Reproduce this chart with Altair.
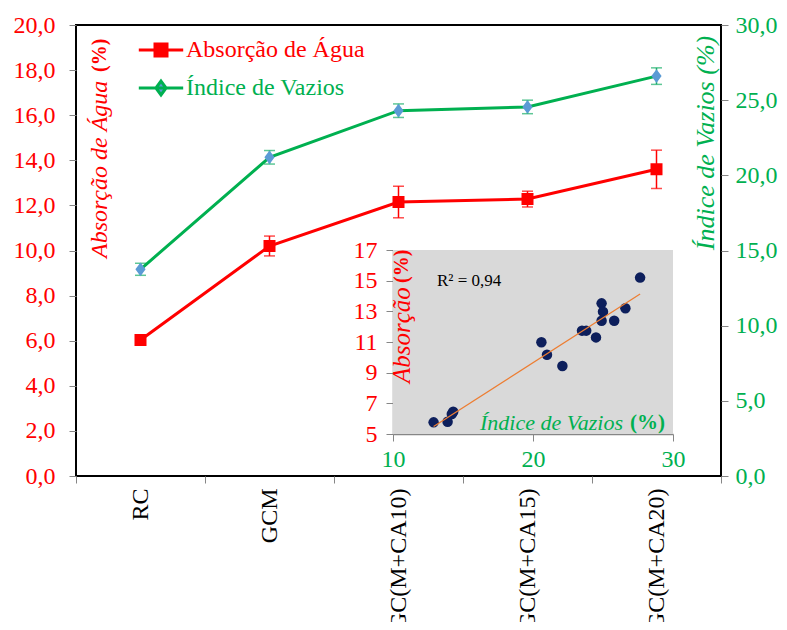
import altair as alt
import pandas as pd

# ---------------- data ----------------
categories = ["RC", "GCM", "GC(M+CA10)", "GC(M+CA15)", "GC(M+CA20)"]
absorcao = [6.03, 10.2, 12.15, 12.28, 13.6]
absorcao_err = [0.05, 0.44, 0.7, 0.35, 0.85]
vazios = [13.75, 21.2, 24.3, 24.55, 26.6]
vazios_err = [0.4, 0.45, 0.45, 0.45, 0.55]

inset_vazios = [12.9, 13.9, 14.2, 14.3, 20.6, 21.0, 22.1, 23.5, 23.8, 24.5,
                24.9, 25.0, 24.9, 25.8, 26.6, 27.65]
inset_absorcao = [5.76, 5.8, 6.3, 6.45, 10.98, 10.17, 9.43, 11.74, 11.74, 11.3,
                  13.52, 12.98, 12.39, 12.39, 13.2, 15.2]

S1 = "Absorção de Água"
S2 = "Índice de Vazios"
FONT = "Liberation Serif"
RED = "#FF0000"
GREEN = "#00B050"
BLUE = "#5B9BD5"
GRAY = "#868686"

rows = []
for c, v, e in zip(categories, absorcao, absorcao_err):
    rows.append(dict(cat=c, series=S1, value=v, lo=v - e, hi=v + e))
for c, v, e in zip(categories, vazios, vazios_err):
    rows.append(dict(cat=c, series=S2, value=v, lo=v - e, hi=v + e))
main_df = pd.DataFrame(rows)

inset_df = pd.DataFrame({"vazios": inset_vazios, "absorcao": inset_absorcao})
inset_bounds = pd.DataFrame({"x0": [10], "x1": [30], "y0": [5], "y1": [17]})

W, H = 645, 451

# ---------------- scales / legend ----------------
square_path = "M-3.7,0H3.7M-1,-1H1V1H-1Z"
diamond_path = "M-3.7,0H3.7M0,-1.15L0.85,0L0,1.15L-0.85,0Z"
stroke_scale = alt.Scale(domain=[S1, S2], range=[RED, GREEN])
fill_scale = alt.Scale(domain=[S1, S2], range=[RED, BLUE])
shape_scale = alt.Scale(domain=[S1, S2], range=[square_path, diamond_path])

leg = alt.Legend(
    title=None, orient="none", legendX=73, legendY=13, padding=0,
    labelFont=FONT, labelFontSize=24, symbolSize=144, symbolStrokeWidth=3,
    labelOffset=13, rowPadding=13, labelLimit=400,
    labelColor=alt.ExprRef("datum.value == 'Absorção de Água' ? '#FF0000' : '#00B050'"),
)

x_axis = alt.Axis(
    orient="bottom", labelAngle=270, labelFont=FONT, labelFontSize=24, labelColor="black",
    labelPadding=5, tickBand="extent", tickColor=GRAY, tickSize=7, domain=False,
    title=None, labelLimit=400,
)
x_main = alt.X("cat:N", sort=categories,
               scale=alt.Scale(type="band", domain=categories, paddingInner=0, paddingOuter=0),
               axis=x_axis)

fmt = "replace(format(datum.value, '.1f'), '.', ',')"
axis_left = alt.Axis(orient="left", values=list(range(0, 21, 2)), labelExpr=fmt,
                     labelFont=FONT, labelFontSize=24, labelColor=RED, tickColor=GRAY,
                     tickSize=7, domain=False, title=None, grid=False, labelPadding=14)
axis_right = alt.Axis(orient="right", values=list(range(0, 31, 5)), labelExpr=fmt,
                      labelFont=FONT, labelFontSize=24, labelColor=GREEN, tickColor=GRAY,
                      tickSize=7, domain=False, title=None, grid=False, labelPadding=7)


def series_layer(name, ydom, axis, cap_color):
    base = alt.Chart(main_df).transform_filter(alt.datum.series == name)
    ysc = alt.Scale(domain=ydom, nice=False, zero=False)
    y_v = alt.Y("value:Q", scale=ysc, axis=axis)
    err = base.mark_rule(color=cap_color, strokeWidth=1.5).encode(
        x=x_main, y=alt.Y("lo:Q", scale=ysc, axis=axis), y2="hi:Q")
    cap_lo = base.mark_tick(color=cap_color, size=11, thickness=1.5).encode(
        x=x_main, y=alt.Y("lo:Q", scale=ysc, axis=axis))
    cap_hi = base.mark_tick(color=cap_color, size=11, thickness=1.5).encode(
        x=x_main, y=alt.Y("hi:Q", scale=ysc, axis=axis))
    line = base.mark_line(strokeWidth=3).encode(
        x=x_main, y=y_v,
        stroke=alt.Stroke("series:N", scale=stroke_scale, legend=leg))
    pts = base.mark_point(filled=True, opacity=1, size=144, strokeWidth=0).encode(
        x=x_main, y=y_v,
        fill=alt.Fill("series:N", scale=fill_scale, legend=leg),
        shape=alt.Shape("series:N", scale=shape_scale, legend=leg))
    return alt.layer(err, cap_lo, cap_hi, line, pts)


red = series_layer(S1, [0, 20], axis_left, RED)
green = series_layer(S2, [0, 30], axis_right, "#1AAF6A")
main = alt.layer(red, green).resolve_scale(y="independent")

# ---------------- inset ----------------
ix_scale = alt.Scale(domain=[10, 30], range=[317, 597], nice=False, zero=False)
iy_scale = alt.Scale(domain=[5, 17], range=[409, 225], nice=False, zero=False)
axis_ix = alt.Axis(orient="bottom", offset=-42, values=[10, 20, 30], labelFont=FONT,
                   labelFontSize=24, labelColor=GREEN, tickColor=GRAY, tickSize=7,
                   domainColor=GRAY, domainWidth=1.5, title=None, grid=False, labelPadding=6,
                   labelFlush=False)
axis_iy = alt.Axis(orient="left", offset=-317, values=list(range(5, 18, 2)), labelFont=FONT,
                   labelFontSize=24, labelColor=RED, tickColor=GRAY, tickSize=7,
                   domainColor=GRAY, domainWidth=1.5, title=None, grid=False, labelPadding=9)

bg = alt.Chart(inset_bounds).mark_rect(color="#D9D9D9").encode(
    x=alt.X("x0:Q", scale=ix_scale, axis=axis_ix), x2="x1:Q",
    y=alt.Y("y0:Q", scale=iy_scale, axis=axis_iy), y2="y1:Q")
ipts = alt.Chart(inset_df).mark_circle(size=110, color="#0D1F5C", opacity=1).encode(
    x=alt.X("vazios:Q", scale=ix_scale, axis=axis_ix),
    y=alt.Y("absorcao:Q", scale=iy_scale, axis=axis_iy))
ireg = alt.Chart(inset_df).transform_regression("vazios", "absorcao").mark_line(
    color="#ED7D31", strokeWidth=1.2).encode(
    x=alt.X("vazios:Q", scale=ix_scale, axis=axis_ix),
    y=alt.Y("absorcao:Q", scale=iy_scale, axis=axis_iy))
inset = alt.layer(bg, ipts, ireg)

# ---------------- text annotations ----------------
one = pd.DataFrame({"k": [0]})


def label(text, x, y, color, size, angle=0, align="left", style="normal", weight="normal"):
    return alt.Chart(one).mark_text(
        text=text, font=FONT, fontSize=size, color=color, angle=angle, align=align,
        baseline="middle", fontStyle=style, fontWeight=weight).encode(
        x=alt.value(x), y=alt.value(y))


texts = [
    label("Absorção de Água", 24, 233, RED, 24, 270, "left", "italic"),
    label("(%)", 24, 47, RED, 20, 270, "left", "normal", "bold"),
    label("Índice de Vazios  (%)", 630, 118, GREEN, 26, 270, "center", "italic"),
    label("Absorção", 326, 358, RED, 25, 270, "left", "italic"),
    label("(%)", 326, 258, RED, 20, 270, "left", "normal", "bold"),
    label("Índice de Vazios", 404, 398, GREEN, 22, 0, "left", "italic"),
    label("(%)", 554, 398, GREEN, 21, 0, "left", "normal", "bold"),
    label("R² = 0,94", 361, 256, "black", 17, 0, "left"),
]

chart = alt.layer(main, inset, *texts).resolve_scale(
    x="independent", y="independent"
).properties(
    width=W, height=H,
    padding={"left": 68, "top": 17, "right": 58, "bottom": 146},
    autosize=alt.AutoSizeParams(type="none"),
).configure(font=FONT).configure_view(stroke="black", strokeWidth=2)

chart.save("out.html", embed_options={"renderer": "svg", "actions": False})
